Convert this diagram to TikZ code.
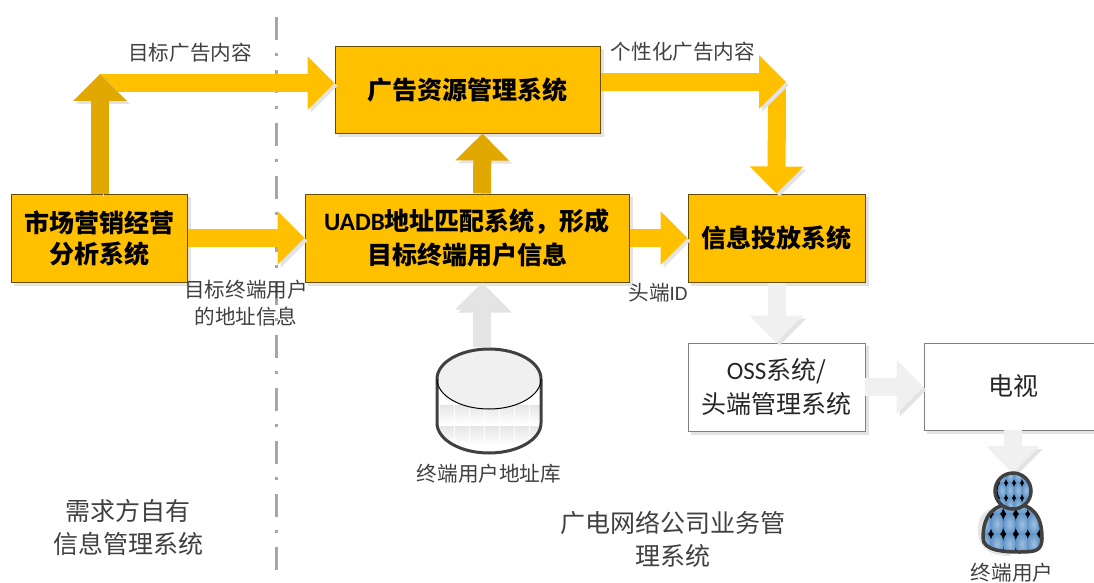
\documentclass[tikz,border=0pt]{standalone}
\usepackage{fontspec}
\setmainfont{Noto Sans CJK SC}
\newfontfamily\latfont{Carlito}
\usetikzlibrary{arrows.meta,shadings}
\definecolor{gold}{HTML}{FFC000}
\definecolor{darkgold}{HTML}{E0A800}
\definecolor{palegrey}{HTML}{F0F0F0}
\definecolor{midgrey}{HTML}{E4E4E4}
\definecolor{inkgrey}{HTML}{404040}
\definecolor{userblue}{HTML}{5F94C8}
\newcommand{\fs}[1]{\fontsize{#1}{#1}\selectfont}
\begin{document}
\begin{tikzpicture}[
   x=1pt,y=-1pt,
   every node/.style={inner sep=0pt,align=center},
   softshadow/.style={preaction={draw=black!11,fill=black!11,transform canvas={shift={(3pt,-3pt)}}}},
   goldbox/.style={draw=black!60!gold,line width=1pt,fill=gold,softshadow,font=\fs{25}\bfseries},
   whitebox/.style={draw=black!50,line width=1pt,fill=white,softshadow,font=\fs{25}\color{black!85}},
   label/.style={font=\fs{20.6}\color{inkgrey}},
   note/.style={font=\fs{25}\color{inkgrey}},
   flow/.style={line width=18pt,-{Triangle[width=52pt,length=27pt]},softshadow},
   goldflow/.style={flow,draw=gold},
   darkflow/.style={flow,draw=darkgold},
   paleflow/.style={flow,draw=palegrey},
   greyflow/.style={flow,draw=midgrey}]

\useasboundingbox (0,0) rectangle (1094,583);

\draw[black!35,line width=3pt,dash pattern=on 23pt off 13pt on 3pt off 14pt] (276,17) -- (276,572);

\node[goldbox,minimum width=176pt,minimum height=88pt] (market) at (99,238) {市场营销经营\\[6pt]分析系统};
\node[goldbox,minimum width=265pt,minimum height=86pt] (adsys) at (467.5,90) {广告资源管理系统};
\node[goldbox,minimum width=324pt,minimum height=88pt] (uadb) at (467,238) {{\latfont UADB}地址匹配系统，形成\\[7pt]目标终端用户信息};
\node[goldbox,minimum width=177pt,minimum height=88pt] (deliver) at (776.5,238) {信息投放系统};
\node[whitebox,minimum width=177pt,minimum height=88pt] (oss) at (776.5,387) {{\latfont OSS}系统/\\[7pt]头端管理系统};
\node[whitebox,minimum width=178pt,minimum height=87pt] (tv) at (1013,386.5) {电视};

\coordinate (marketup) at (100,74);
\coordinate (adbend) at (100,83);
\coordinate (rightbend) at (786,82);
\coordinate (downbend) at (777,82);
\coordinate (dbtop) at (482,347);
\coordinate (tvout) at (1013,430);
\coordinate (usertop) at (1013,473);
\coordinate (ossout) at (865,387);

\draw[goldflow] (adbend) -- (adbend -| adsys.west);
\draw[darkflow] (market.north -| marketup) -- (marketup);
\draw[goldflow] (market.east) -- (uadb.west);
\draw[darkflow] ([xshift=15pt]uadb.north) -- ([xshift=15pt]adsys.south);
\draw[goldflow] (uadb.east) -- (deliver.west);
\draw[goldflow] (downbend) -- (deliver.north);
\draw[goldflow] (adsys.east |- rightbend) -- (rightbend);
\draw[paleflow] (deliver.south) -- (oss.north);
\draw[paleflow] (ossout) -- (ossout -| tv.west);
\draw[paleflow] (tvout) -- (usertop);
\draw[greyflow] (dbtop) -- ([xshift=15pt]uadb.south);

% database
\fill[white] (437,379) -- (437,423) arc[x radius=52,y radius=30,start angle=180,end angle=0] -- (541,379) -- cycle;
\begin{scope}
\clip (437,379) -- (437,423) arc[x radius=52,y radius=30,start angle=180,end angle=0] -- (541,379) -- cycle;
\foreach \row in {405,426}
  \foreach \col in {440,455,...,530}
    \shade[top color=black!10,bottom color=white] (\col,\row) rectangle (\col+14,\row+19);
\end{scope}
\fill[palegrey] (489,379) ellipse[x radius=52,y radius=30];
\draw[inkgrey,line width=3pt] (437,379) -- (437,423) arc[x radius=52,y radius=30,start angle=180,end angle=0] -- (541,379);
\draw[inkgrey,line width=3pt] (437,379) arc[x radius=52,y radius=30,start angle=180,end angle=360];
\draw[black,line width=1pt] (437,379) arc[x radius=52,y radius=30,start angle=180,end angle=0];

% user
\fill[black!10] (978,530) .. controls (978,508) and (995,506) .. (1010,506) -- (1010,556) .. controls (995,556) and (978,552) .. (978,530) -- cycle;
\begin{scope}
\clip (983,538) .. controls (983,515) and (994,504) .. (1013,504) .. controls (1032,504) and (1042,515) .. (1042,538) .. controls (1042,551) and (1035,552) .. (1020,552) .. controls (1005,552) and (983,551) .. (983,538) -- cycle;
\fill[black] (975,495) rectangle (1050,560);
\foreach \cx in {985,997,1009.5,1022,1033.5,1045}
  \foreach \cy in {504,524,544}
    \shade[inner color=userblue!60!white,outer color=userblue] (\cx,\cy) ellipse[x radius=6.6,y radius=11.2];
\end{scope}
\draw[inkgrey,line width=3.5pt] (983,538) .. controls (983,515) and (994,504) .. (1013,504) .. controls (1032,504) and (1042,515) .. (1042,538) .. controls (1042,551) and (1035,552) .. (1020,552) .. controls (1005,552) and (983,551) .. (983,538) -- cycle;
\begin{scope}
\clip (1013,491) circle (18);
\fill[black] (990,470) rectangle (1036,512);
\foreach \cx in {1002,1010,1018,1026}
  \foreach \cy in {475.5,490.5,505.5}
    \shade[inner color=userblue!60!white,outer color=userblue] (\cx,\cy) ellipse[x radius=4.3,y radius=8.3];
\end{scope}
\draw[inkgrey,line width=3.5pt] (1013,491) circle (18);

\node[label] (adlabel) at (190,53) {目标广告内容};
\node[label] (perlabel) at (683,52) {个性化广告内容};
\node[label] (addrlabel) at (246,303) {目标终端用户\\[7pt]的地址信息};
\node[label] (headlabel) at (658,293) {头端{\latfont ID}};
\node[label] (dblabel) at (489,474) {终端用户地址库};
\node[label] (userlabel) at (1012,573) {终端用户};
\node[note] (ownsys) at (128,527.5) {需求方自有\\[8pt]信息管理系统};
\node[note] (catvsys) at (673,539.5) {广电网络公司业务管\\[8pt]理系统};

\end{tikzpicture}
\end{document}
